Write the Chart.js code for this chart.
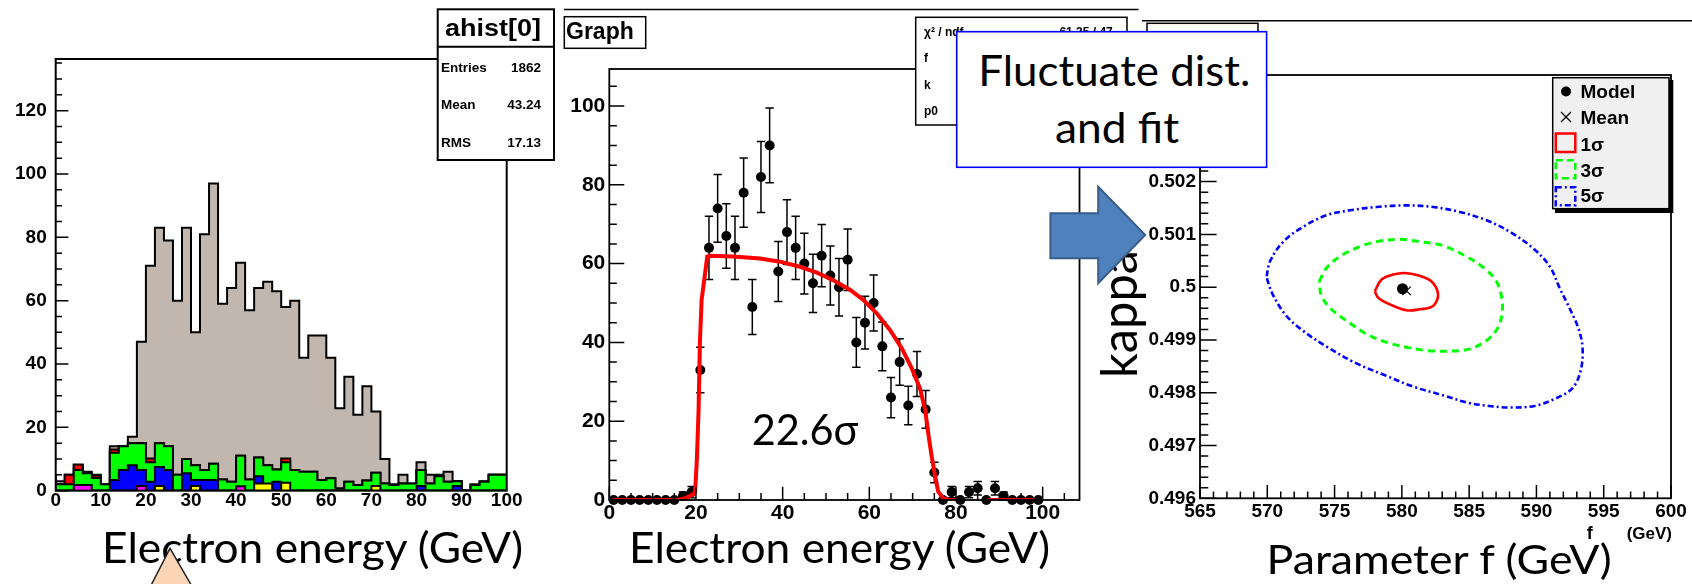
<!DOCTYPE html>
<html>
<head>
<meta charset="utf-8">
<script src="https://cdn.jsdelivr.net/npm/chart.js@4.4.1/dist/chart.umd.min.js"></script>
<style>
html,body{margin:0;padding:0;background:#fff;overflow:hidden;}
#stage{position:relative;width:1692px;height:584px;overflow:hidden;background:#fff;}
canvas.ch{position:absolute;left:0;top:0;}
#ov{position:absolute;left:0;top:0;pointer-events:none;}
.rt{font-family:"Liberation Sans",Arial,sans-serif;font-weight:bold;fill:#000;}
.sl{font-family:Lato,"Open Sans","Noto Sans",sans-serif;fill:#000;}
</style>
</head>
<body>
<div id="stage">
<canvas id="c1" class="ch" width="1692" height="584"></canvas>
<canvas id="c2" class="ch" width="1692" height="584"></canvas>
<canvas id="c3" class="ch" width="1692" height="584"></canvas>
<svg id="ov" width="1692" height="584" xmlns="http://www.w3.org/2000/svg">
  <!-- ROOT canvas top lines -->
  <line x1="564" y1="9.5" x2="1138.5" y2="9.5" stroke="#000" stroke-width="1.5"/>
  <line x1="1142" y1="20.7" x2="1692" y2="20.7" stroke="#000" stroke-width="1.5"/>

  <!-- panel 1 stats box -->
  <rect x="437.7" y="9.3" width="116.3" height="150.7" fill="#fff" stroke="#000" stroke-width="2"/>
  <line x1="437.7" y1="46.7" x2="554" y2="46.7" stroke="#000" stroke-width="2"/>
  <text class="rt" x="445" y="35.5" font-size="24" textLength="96" lengthAdjust="spacingAndGlyphs">ahist[0]</text>
  <text class="rt" x="441" y="71.7" font-size="13.5">Entries</text>
  <text class="rt" x="541" y="71.7" font-size="13.5" text-anchor="end">1862</text>
  <text class="rt" x="441" y="109.3" font-size="13.5">Mean</text>
  <text class="rt" x="541" y="109.3" font-size="13.5" text-anchor="end">43.24</text>
  <text class="rt" x="441" y="146.7" font-size="13.5">RMS</text>
  <text class="rt" x="541" y="146.7" font-size="13.5" text-anchor="end">17.13</text>

  <!-- panel 2 title box -->
  <rect x="564.3" y="16.7" width="81.4" height="31.6" fill="#fff" stroke="#000" stroke-width="1.5"/>
  <text class="rt" x="566" y="38.5" font-size="23">Graph</text>

  <!-- panel 2 fit stats box -->
  <rect x="915.7" y="17.3" width="211.3" height="107.7" fill="#fff" stroke="#000" stroke-width="1.5"/>
  <text class="rt" x="924" y="36" font-size="12">χ² / ndf</text>
  <text class="rt" x="1112.8" y="36" font-size="12" text-anchor="end">61.35 / 47</text>
  <text class="rt" x="924" y="61.7" font-size="12">f</text>
  <text class="rt" x="924" y="89.3" font-size="12">k</text>
  <text class="rt" x="924" y="115" font-size="12">p0</text>

  <!-- panel 3 title box (mostly hidden) -->
  <rect x="1147" y="23.3" width="111" height="40" fill="#fff" stroke="#000" stroke-width="1.5"/>

  <!-- panel 3 legend -->
  <rect x="1555" y="80" width="118.3" height="133" fill="#000"/>
  <rect x="1552.7" y="77.7" width="116.3" height="131" fill="#f0f0f0" stroke="#000" stroke-width="1.5"/>
  <circle cx="1566" cy="91.5" r="5" fill="#000"/>
  <line x1="1561" y1="112" x2="1571" y2="122" stroke="#000" stroke-width="1.2"/>
  <line x1="1561" y1="122" x2="1571" y2="112" stroke="#000" stroke-width="1.2"/>
  <rect x="1555.8" y="133.5" width="19.5" height="18.5" fill="none" stroke="#ff0000" stroke-width="2.5"/>
  <rect x="1555.8" y="160.2" width="19.5" height="18" fill="none" stroke="#00ff00" stroke-width="2.5" stroke-dasharray="7,4"/>
  <rect x="1555.8" y="187.2" width="19.5" height="18" fill="none" stroke="#0000ff" stroke-width="2.5" stroke-dasharray="6,3,2,3"/>
  <text class="rt" x="1580.5" y="98.3" font-size="19">Model</text>
  <text class="rt" x="1580.5" y="124" font-size="19">Mean</text>
  <text class="rt" x="1580.5" y="150.7" font-size="19">1σ</text>
  <text class="rt" x="1580.5" y="177.3" font-size="19">3σ</text>
  <text class="rt" x="1580.5" y="202.3" font-size="19">5σ</text>

  <!-- panel 3 ROOT axis title -->
  <text class="rt" x="1586.8" y="539.3" font-size="18">f</text>
  <text class="rt" x="1672" y="539.3" font-size="17" text-anchor="end">(GeV)</text>

  <!-- slide texts -->
  <text class="sl" x="102" y="563.3" font-size="43" textLength="421" lengthAdjust="spacingAndGlyphs">Electron energy (GeV)</text>
  <text class="sl" x="629" y="563.3" font-size="43" textLength="421" lengthAdjust="spacingAndGlyphs">Electron energy (GeV)</text>
  <text class="sl" x="1266.6" y="574.3" font-size="40" textLength="345" lengthAdjust="spacingAndGlyphs">Parameter f (GeV)</text>
  <text class="sl" x="751.7" y="445" font-size="42" textLength="106.6" lengthAdjust="spacingAndGlyphs">22.6σ</text>
  <text class="sl" transform="translate(1137,314) rotate(-90)" text-anchor="middle" font-size="51" textLength="128" lengthAdjust="spacingAndGlyphs">kappa</text>

  <!-- blue callout box -->
  <rect x="956.7" y="31.7" width="309.9" height="135.6" fill="#fff" stroke="#0000ff" stroke-width="1.6"/>
  <text class="sl" x="978.3" y="86" font-size="42" textLength="272" lengthAdjust="spacingAndGlyphs">Fluctuate dist.</text>
  <text class="sl" x="1055" y="143.3" font-size="42" textLength="124" lengthAdjust="spacingAndGlyphs">and fit</text>

  <!-- block arrow -->
  <polygon points="1050.4,213.3 1098.2,213.3 1098.2,186.7 1145.2,235 1098.2,283.3 1098.2,258.3 1050.4,258.3" fill="#4f81bd" stroke="#385d8a" stroke-width="2"/>

  <!-- peach callout pointer -->
  <polygon points="170,548.3 142.5,602 201,602" fill="#fbd5b5" stroke="#222" stroke-width="1.5"/>
</svg>
</div>
<script>
// ---------------- Panel 1: stacked histogram (2 GeV bins) ----------------
const p1BinLow = [0,2,4,6,8,10,12,14,16,18,20,22,24,26,28,30,32,34,36,38,40,42,44,46,48,50,52,54,56,58,60,62,64,66,68,70,72,74,76,78,80,82,84,86,88,90,92,94,96,98];
const p1LastEdge = 100;
const p1Total   = [5,3,5,8,6,5,2,14,14,17, 47,71,83,79,60,83,50,81,97,59, 64,72,57,64,66,63,58,60,42,49, 49,42,26,36,24,33,25,10,2,5, 2,9,5,5,6,3,0,2,3,5];
const p1Red     = [5,2,5,8.3,5.5,4.8,2,13,14,15, 15,10.2,15,14,5,10,8,6.5,8.5,3.5, 2.8,11,3.5,10.5,8,6.7,10.2,6.5,6,6, 3.4,3.9,0.7,2.8,1.8,3.2,5.7,2.3,1.8,2.3, 2.3,6.5,2.3,4.6,2.8,3,0,1.8,2.8,5];
const p1Green   = [0,2,2,6.5,5.5,4,2,12,14,15, 15,9,15,14,5,10,8,6.5,8.5,3.5, 2.8,11,3.5,10.5,8,6.7,9,6.5,6,6, 3.4,3.9,0.7,2.8,1.8,3.2,5.7,2.3,1.8,2.3, 2.3,6.5,2.3,4.6,2.8,3,0,1.8,2.8,5];
const p1Blue    = [0,0,0,0,0,0,0,3.4,6.5,8, 6.5,2.8,7.5,6.5,0,5.5,3.4,3.4,3.4,0, 0,0,0,4.6,0,2.8,0,0,0,0, 0,0,0,0,0,0,0,0,0,0, 0,1.5,0,0,0,1.5,0,0,0,0];
const p1Yellow  = [0,0,0,0,0,0,0,0,0,0, 0,0,1.5,0,0,0,1.5,0,0,0, 0,0,0,2.3,2.3,0,2.5,0,0,0, 0,0,0,0,0,0,1.5,0,0,0, 0,0,0,0,0,0,0,0,0,0];
const p1Magenta = [0,0,0,1.8,1.8,0,0,0,0,0, 1.5,0,0,0,0,0,0,0,0,0, 0,1.4,0,0,0,0,0,0,0,0, 0,0,0,0,0,0,0,0,0,0, 0,0,0,0,0,0,0,0,0,0];
const p1XTicks = [0,10,20,30,40,50,60,70,80,90,100];
const p1YTicks = [0,20,40,60,80,100,120];

// ---------------- Panel 2: graph with errors + fit ----------------
const p2X   = [1,3,5,7,9,11,13,15,17,19,21,23,25,27,29,31,33,35,37,39,41,43,45,47,49,51,53,55,57,59,61,63,65,67,69,71,73,75,77,79,81,83,85,87,89,91,93,95,97,99];
const p2Y   = [0,0,0,0,0,0,0,0,1,2, 33,64,74,67,64,78,49,82,90,58, 68,64,60,55,62,57,54,61,40,45, 50,39,26,35,24,32,23,7,0,2, 0,2,3,0,3,1,0,0,0,0];
const p2Err = [0,0,0,0,0,0,0,0,1,1.4, 5.8,8,8.6,8.2,8,8.8,7,9,9.5,7.6, 8.2,8,7.7,7.4,7.9,7.5,7.3,7.8,6.3,6.7, 7.1,6.2,5.1,5.9,4.9,5.7,4.8,2.6,0,1.4, 0,1.4,1.7,0,1.7,1,0,0,0,0];
const p2FitX = [0.9,15.6,17.1,18.2,19.4,19.8,20.2,20.6,20.9,21.3,21.9,22.3,22.6,23.2,28.6,34.8,39.4,44.0,47.9,51.7,55.6,58.6,61.7,64.8,67.5,69.8,71.7,72.9,73.6,74.4,75.2,75.9,77.1,78.6,80.2,84,87.5,97.9];
const p2FitY = [0,0,0.3,0.8,1.5,2.1,10.2,22.8,39.8,50.8,55.8,59.2,61.8,62.0,61.8,61.3,60.5,59.2,57.7,55.8,53.3,50.8,47.4,43.1,38.5,33.4,28.3,22.8,16.9,11.0,5.9,2.1,0.4,0,0,null,0,0];
const p2XTicks = [0,20,40,60,80,100];
const p2YTicks = [0,20,40,60,80,100];

// ---------------- Panel 3: contours in (f, kappa) ----------------
const p3ModelF = 580.05, p3ModelK = 0.49997;
const p3MeanF = 580.35, p3MeanK = 0.49993;
const p3Sig1F = [577.99,578.49,579.35,580.21,581.2,582.19,582.69,582.32,581.33,580.34,579.1,578.24];
const p3Sig1K = [0.499925,0.500144,0.500238,0.500269,0.500225,0.500113,0.499863,0.499644,0.499581,0.499563,0.499675,0.4998];
const p3Sig3F = [573.86,574.4,575.39,576.88,578.12,579.85,581.33,583.06,584.79,586.16,587.02,587.4,587.47,587.15,586.29,585.05,583.56,581.83,580.34,578.86,577.37,575.89,574.77,574.03];
const p3Sig3K = [0.500113,0.500363,0.500581,0.500769,0.500863,0.500906,0.500863,0.500788,0.500581,0.50035,0.500113,0.499831,0.49955,0.499238,0.498988,0.498831,0.498788,0.4988,0.498863,0.498956,0.499113,0.499363,0.499581,0.499831];
const p3Sig5F = [569.95,570.2,571.19,572.67,574.4,576.13,578.12,580.34,582.32,584.3,586.29,588.02,589.75,590.99,591.73,592.34,593.12,593.43,593.27,592.65,591.41,589.87,588.02,586.47,584.93,583.07,580.91,578.75,576.59,574.43,572.57,571.34,570.41,570.04];
const p3Sig5K = [0.500206,0.500488,0.500863,0.501144,0.501363,0.501456,0.501519,0.50155,0.501519,0.501425,0.501269,0.50105,0.500738,0.500394,0.49998,0.499665,0.49922,0.49884,0.4984,0.49808,0.49789,0.49775,0.49772,0.49775,0.49781,0.49795,0.49811,0.49833,0.49856,0.49887,0.49919,0.49948,0.49986,0.50011];
const p3XTicks = [565,570,575,580,585,590,595,600];
const p3YTicks = [0.496,0.497,0.498,0.499,0.5,0.501,0.502];
const p3YTickLabels = ['0.496','0.497','0.498','0.499','0.5','0.501','0.502'];

// ---------------- helpers ----------------
const W = 1692, H = 584;
function ticksDraw(chart, o) {
  const c = chart.ctx, a = chart.chartArea, xs = chart.scales.x, ys = chart.scales.y;
  c.save(); c.strokeStyle = '#000'; c.lineWidth = o.lw || 1.5; c.beginPath();
  if (o.xMinor) {
    const i0 = Math.ceil(xs.min / o.xMinor - 1e-6), i1 = Math.floor(xs.max / o.xMinor + 1e-6);
    for (let i = i0; i <= i1; i++) {
      const v = i * o.xMinor, px = xs.getPixelForValue(v);
      const r = v / o.xMajor, maj = Math.abs(r - Math.round(r)) < 1e-6;
      c.moveTo(px, a.bottom); c.lineTo(px, a.bottom - (maj ? o.xMajLen : o.xMinLen));
    }
  }
  if (o.yMinor) {
    const i0 = Math.ceil(ys.min / o.yMinor - 1e-6), i1 = Math.floor(ys.max / o.yMinor + 1e-6);
    for (let i = i0; i <= i1; i++) {
      const v = i * o.yMinor, py = ys.getPixelForValue(v);
      const r = v / o.yMajor, maj = Math.abs(r - Math.round(r)) < 1e-6;
      c.moveTo(a.left, py); c.lineTo(a.left + (maj ? o.yMajLen : o.yMinLen), py);
    }
  }
  c.stroke(); c.restore();
}
const rootAxes = {
  id: 'rootAxes',
  beforeDatasetsDraw(chart, args, o) { if (o.under) ticksDraw(chart, o); },
  afterDatasetsDraw(chart, args, o) {
    if (!o.under) ticksDraw(chart, o);
    const a = chart.chartArea, c = chart.ctx;
    c.save(); c.strokeStyle = '#000'; c.lineWidth = o.frame || 2;
    c.strokeRect(a.left, a.top, a.right - a.left, a.bottom - a.top); c.restore();
  }
};
const errBars = {
  id: 'errBars',
  beforeDatasetDraw(chart, args, o) {
    if (!o || args.index !== o.datasetIndex) return;
    const c = chart.ctx, xs = chart.scales.x, ys = chart.scales.y;
    const ds = chart.data.datasets[args.index].data;
    c.save(); c.strokeStyle = '#000'; c.lineWidth = 1.5; c.beginPath();
    ds.forEach((p, i) => {
      const e = o.errors[i]; if (!e) return;
      const px = xs.getPixelForValue(p.x), y1 = ys.getPixelForValue(p.y - e), y2 = ys.getPixelForValue(p.y + e);
      c.moveTo(px, y1); c.lineTo(px, y2);
      c.moveTo(px - o.cap, y1); c.lineTo(px + o.cap, y1);
      c.moveTo(px - o.cap, y2); c.lineTo(px + o.cap, y2);
    });
    c.stroke(); c.restore();
  }
};
function tickFont(size) { return {family: '"Liberation Sans", Arial, sans-serif', weight: 'bold', size: size}; }
function axis(opts) {
  const base = {
    type: 'linear', min: opts.min, max: opts.max,
    grid: {display: false, drawTicks: false}, border: {display: false},
    afterBuildTicks: s => { s.ticks = opts.ticks.map(v => ({value: v})); },
    ticks: {autoSkip: false, maxRotation: 0, minRotation: 0, padding: opts.pad, color: '#000', font: tickFont(opts.font),
            callback: opts.labels ? ((v, i) => opts.labels[i]) : (v => String(v))}
  };
  if (opts.w !== undefined) base.afterFit = s => { s.width = opts.w; s.paddingTop = 0; s.paddingBottom = 0; };
  if (opts.h !== undefined) base.afterFit = s => { s.height = opts.h; s.paddingLeft = 0; s.paddingRight = 0; };
  return base;
}
function area(left, top, right, bottom, yw, xh) {
  return {padding: {left: left - yw, top: top, right: W - right, bottom: H - bottom - xh}};
}
const common = {responsive: false, animation: false, events: [], devicePixelRatio: 1};

// ---------------- Chart 1 ----------------
function stepData(vals) {
  const d = p1BinLow.map((x, i) => ({x: x, y: vals[i]}));
  d.push({x: p1LastEdge, y: vals[vals.length - 1]});
  return d;
}
function histDs(vals, color) {
  return {data: stepData(vals), stepped: 'after', fill: 'origin', backgroundColor: color,
          borderColor: '#000', borderWidth: 2, pointRadius: 0, tension: 0};
}
new Chart(document.getElementById('c1'), {
  type: 'line',
  data: {datasets: [
    histDs(p1Magenta, '#ff00ff'), histDs(p1Yellow, '#ffff00'), histDs(p1Blue, '#0000ff'),
    histDs(p1Green, '#00ff00'), histDs(p1Red, '#ff0000'), histDs(p1Total, '#c1b7ae')
  ]},
  options: Object.assign({}, common, {
    layout: area(55.7, 59, 506.7, 490.7, 55.7, 40),
    scales: {
      x: axis({min: 0, max: 100, ticks: p1XTicks, pad: -1, font: 19, h: 40}),
      y: axis({min: 0, max: 136.3, ticks: p1YTicks, pad: 9, font: 19, w: 55.7})
    },
    plugins: {legend: {display: false}, tooltip: {enabled: false},
      rootAxes: {yMajor: 20, yMinor: 5, yMajLen: 12.7, yMinLen: 6.3, frame: 2}}
  }),
  plugins: [rootAxes]
});

// ---------------- Chart 2 ----------------
new Chart(document.getElementById('c2'), {
  type: 'scatter',
  data: {datasets: [
    {data: p2FitX.map((x, i) => ({x: x, y: p2FitY[i]})), showLine: true, spanGaps: false,
     borderColor: '#ff0000', borderWidth: 4, pointRadius: 0, tension: 0},
    {data: p2X.map((x, i) => ({x: x, y: p2Y[i]})), pointRadius: 5, pointBackgroundColor: '#000',
     pointBorderColor: '#000', pointBorderWidth: 0, clip: false}
  ]},
  options: Object.assign({}, common, {
    layout: area(609.3, 69, 1079.5, 500, 89.3, 40),
    scales: {
      x: axis({min: 0, max: 108.5, ticks: p2XTicks, pad: 1, font: 21, h: 40}),
      y: axis({min: 0, max: 109.4, ticks: p2YTicks, pad: 4, font: 21, w: 89.3})
    },
    plugins: {legend: {display: false}, tooltip: {enabled: false},
      errBars: {datasetIndex: 1, errors: p2Err, cap: 4.2},
      rootAxes: {xMajor: 20, xMinor: 5, xMajLen: 13.3, xMinLen: 7, yMajor: 20, yMinor: 5, yMajLen: 15, yMinLen: 7.5, frame: 1.8}}
  }),
  plugins: [errBars, rootAxes]
});

// ---------------- Chart 3 ----------------
function loop(fs, ks) { const d = fs.map((f, i) => ({x: f, y: ks[i]})); d.push({x: fs[0], y: ks[0]}); return d; }
new Chart(document.getElementById('c3'), {
  type: 'scatter',
  data: {datasets: [
    {data: [{x: p3ModelF, y: p3ModelK}], pointRadius: 5.5, pointBackgroundColor: '#000', pointBorderWidth: 0},
    {data: [{x: p3MeanF, y: p3MeanK}], pointStyle: 'crossRot', pointRadius: 6, pointBorderColor: '#000', pointBorderWidth: 1.2},
    {data: loop(p3Sig1F, p3Sig1K), showLine: true, borderColor: '#ff0000', borderWidth: 2.6, pointRadius: 0, tension: 0.35},
    {data: loop(p3Sig3F, p3Sig3K), showLine: true, borderColor: '#00ff00', borderWidth: 3, borderDash: [7, 5], pointRadius: 0, tension: 0.35},
    {data: loop(p3Sig5F, p3Sig5K), showLine: true, borderColor: '#0000ff', borderWidth: 2.6, borderDash: [6, 3, 2, 3], pointRadius: 0, tension: 0.35}
  ]},
  options: Object.assign({}, common, {
    layout: area(1200, 75, 1671, 498.3, 110, 40),
    scales: {
      x: axis({min: 565, max: 600, ticks: p3XTicks, pad: 2, font: 19, h: 40}),
      y: axis({min: 0.496, max: 0.50402, ticks: p3YTicks, labels: p3YTickLabels, pad: 4, font: 19, w: 110})
    },
    plugins: {legend: {display: false}, tooltip: {enabled: false},
      rootAxes: {xMajor: 5, xMinor: 1, xMajLen: 13.3, xMinLen: 6.7, yMajor: 0.001, yMinor: 0.0002, yMajLen: 16.6, yMinLen: 8.3, frame: 1.8}}
  }),
  plugins: [rootAxes]
});
</script>
</body>
</html>
